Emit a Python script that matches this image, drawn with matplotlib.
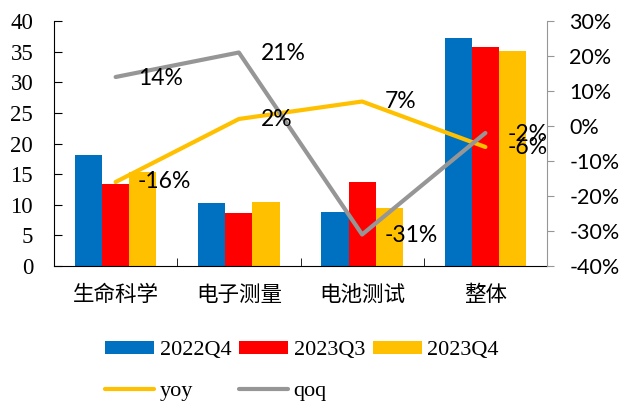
import matplotlib
matplotlib.use("Agg")
import matplotlib.pyplot as plt
import numpy as np
from matplotlib.ticker import FuncFormatter, MultipleLocator

categories = ["生命科学", "电子测量", "电池测试", "整体"]
q4_2022 = [18.2, 10.25, 8.8, 37.2]
q3_2023 = [13.35, 8.6, 13.7, 35.7]
q4_2023 = [15.3, 10.4, 9.4, 35.1]
yoy = [-16, 2, 7, -6]
qoq = [14, 21, -31, -2]
bar_labels = ["2022Q4", "2023Q3", "2023Q4"]

blue, red, yellow, gray = "#0070C0", "#FF0000", "#FFC000", "#969696"

fig = plt.figure(figsize=(6.2, 4.05), dpi=100)
ax = fig.add_axes([54 / 620, 1 - 266 / 405, (547 - 54) / 620, (266 - 21) / 405])
ax2 = ax.twinx()

x = np.arange(len(categories))
w = 0.22
b0 = ax.bar(x - w, q4_2022, w, color=blue, label=bar_labels[0])
b1 = ax.bar(x, q3_2023, w, color=red, label=bar_labels[1])
b2 = ax.bar(x + w, q4_2023, w, color=yellow, label=bar_labels[2])

ax.set_xlim(-0.5, 3.5)
ax.set_ylim(0, 40)
ax.yaxis.set_major_locator(MultipleLocator(5))
ax.tick_params(axis="y", direction="in", length=6, pad=15, labelsize=16.5)
for t in ax.get_yticklabels():
    t.set_fontfamily("Liberation Serif")

ax.set_xticks(x)
ax.set_xticklabels(categories, fontfamily=["Noto Sans CJK SC", "DejaVu Sans"], fontsize=15.5)
ax.tick_params(axis="x", which="major", length=0, pad=13)
ax.set_xticks([0.5, 1.5, 2.5], minor=True)
ax.tick_params(axis="x", which="minor", direction="in", length=6, color="black")

ax.spines["top"].set_visible(False)
ax.spines["right"].set_visible(False)
ax.spines["left"].set_color("black")
ax.spines["bottom"].set_color("black")

l1, = ax2.plot(x, yoy, color=yellow, lw=3, label="yoy", solid_capstyle="round")
l2, = ax2.plot(x, qoq, color=gray, lw=3, label="qoq", solid_capstyle="round")
ax2.set_ylim(-40, 30)
ax2.yaxis.set_major_locator(MultipleLocator(10))
ax2.yaxis.set_major_formatter(FuncFormatter(lambda v, p: f"{v:.0f}%"))
ax2.tick_params(axis="y", direction="out", length=5, pad=11, color=gray, labelsize=15.5)
for t in ax2.get_yticklabels():
    t.set_fontfamily("Lato")
for s in ["top", "left", "bottom"]:
    ax2.spines[s].set_visible(False)
ax2.spines["right"].set_color(gray)

for xi, v in zip(x, yoy):
    ax2.annotate(f"{v}%", (xi, v), xytext=(16, 0), textcoords="offset points",
                 ha="left", va="center", fontsize=16.5, fontfamily="Lato")
for xi, v in zip(x, qoq):
    ax2.annotate(f"{v}%", (xi, v), xytext=(16, -1), textcoords="offset points",
                 ha="left", va="center", fontsize=16.5, fontfamily="Lato")

fig.legend([b0, l1, b1, l2, b2], ["2022Q4", "yoy", "2023Q3", "qoq", "2023Q4"],
           ncol=3, loc="center", bbox_to_anchor=(302 / 620, 1 - 371 / 405),
           frameon=False, prop={"family": "Liberation Serif", "size": 16},
           handlelength=2.2, handleheight=0.55, handletextpad=0.25,
           columnspacing=0.35, labelspacing=0.95, borderaxespad=0)

fig.savefig("out.png", dpi=100)
